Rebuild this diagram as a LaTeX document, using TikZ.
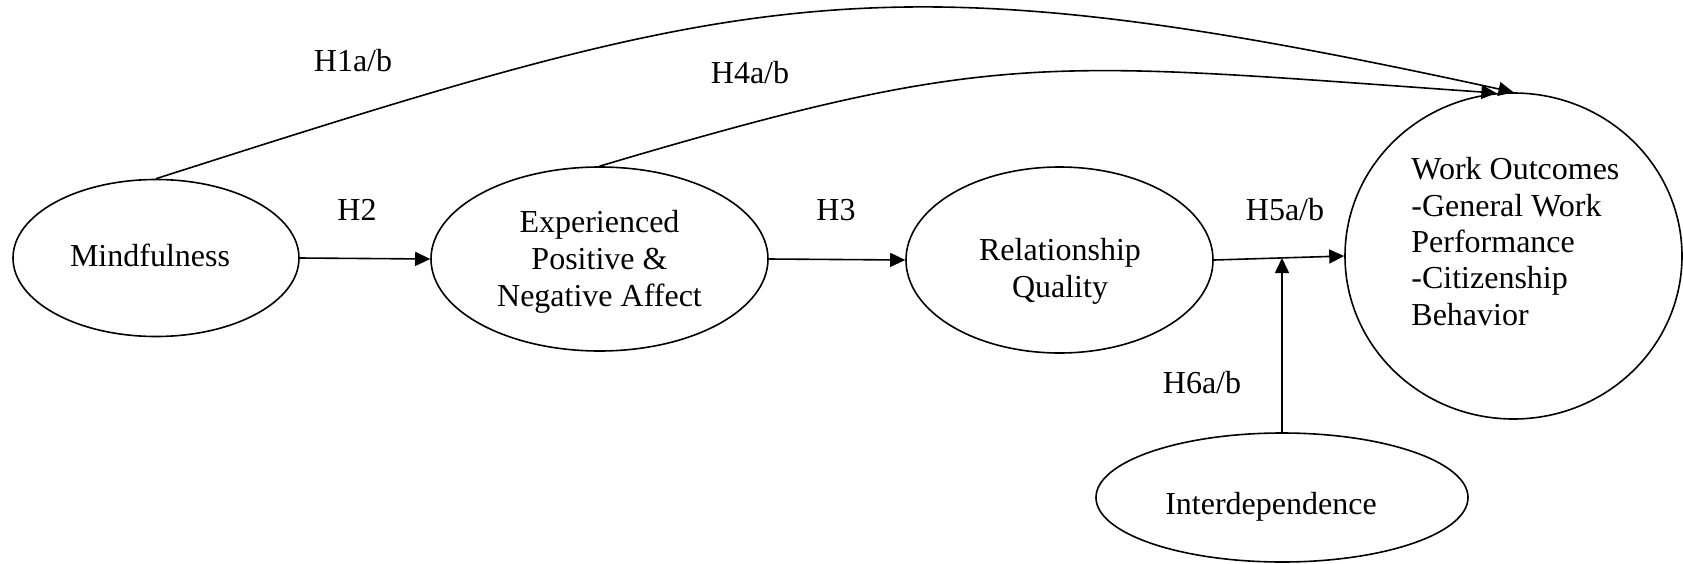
\documentclass[tikz,border=0pt]{standalone}
\usepackage{fontspec}
\setmainfont{Liberation Serif}
\usetikzlibrary{shapes.geometric,arrows.meta}
\begin{document}
\begin{tikzpicture}[x=0.5pt,y=-0.5pt,
  oval/.style={draw,ellipse,line width=0.8pt,inner sep=0pt},
  txt/.style={inner sep=0pt,font=\fontsize{16pt}{18.5pt}\selectfont},
  conn/.style={line width=0.8pt,-{Triangle[length=7.5pt,width=7pt]}}]
\useasboundingbox (0,0) rectangle (1683,563);
% shapes
\node[oval,minimum width=143pt,minimum height=78.5pt] (m) at (156,258) {};
\node[oval,minimum width=168.5pt,minimum height=92pt] (e) at (599.5,259) {};
\node[oval,minimum width=153.5pt,minimum height=93pt] (r) at (1059.5,260) {};
\node[oval,minimum width=168.5pt,minimum height=163pt] (w) at (1513.5,256) {};
\node[oval,minimum width=186pt,minimum height=64.5pt] (i) at (1282,497.5) {};
% texts
\node[txt,anchor=base] (tm) at (150,266) {Mindfulness};
\node[txt,align=center] (te) at (599.5,261.5) {Experienced\\Positive \&\\Negative Affect};
\node[txt,align=center] (tr) at (1060,271) {Relationship\\Quality};
\node[txt,align=left,anchor=west,font=\fontsize{16pt}{18.2pt}\selectfont] (tw) at (1411,241.5) {Work Outcomes\\-General Work\\Performance\\-Citizenship\\Behavior};
\node[txt,anchor=base] (ti) at (1271,514) {Interdependence};
% labels
\node[txt,anchor=base] (l1) at (353,71) {H1a/b};
\node[txt,anchor=base] (l4) at (750,83) {H4a/b};
\node[txt,anchor=base] (l2) at (357,220) {H2};
\node[txt,anchor=base] (l3) at (836,220) {H3};
\node[txt,anchor=base] (l5) at (1285,220) {H5a/b};
\node[txt,anchor=base] (l6) at (1202,393) {H6a/b};
% connectors
\draw[conn] (m.east) -- (e.west);
\draw[conn] (e.east) -- (r.west);
\draw[conn] (r.east) -- (w.west);
\coordinate (j) at (1282,258);
\draw[conn] (i.north) -- (j);
\draw[conn] (m.north) .. controls (752,-12) and (876,-47) .. (w.north);
\draw[conn] (e.north) .. controls (1000,47) and (1045,61.5) .. (w.96);
\end{tikzpicture}
\end{document}
